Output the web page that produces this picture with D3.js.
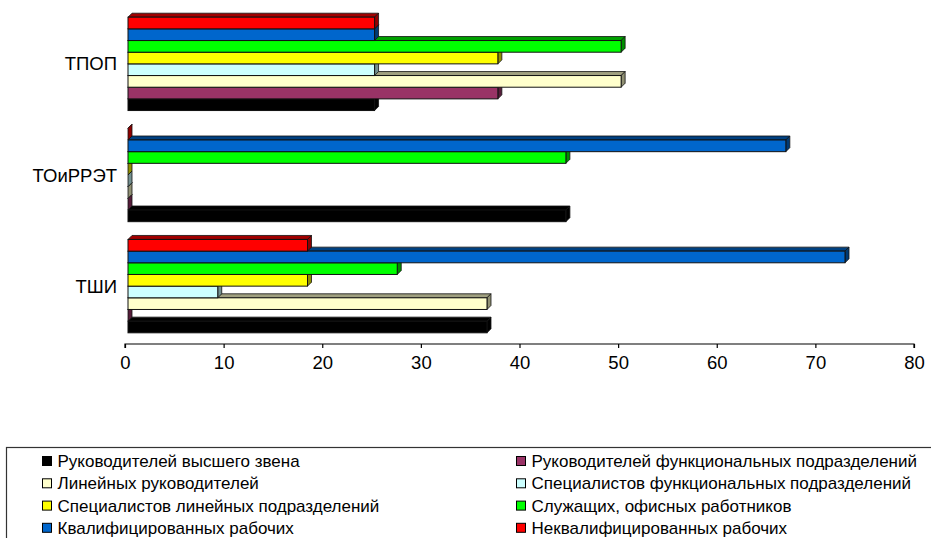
<!DOCTYPE html>
<html>
<head>
<meta charset="utf-8">
<script src="https://cdn.jsdelivr.net/npm/d3@7"></script>
<style>
  html, body { margin: 0; padding: 0; background: #fff; }
  svg { display: block; font-family: "Liberation Sans", Arial, sans-serif; }
</style>
</head>
<body>
<svg id="chart" width="931" height="538"></svg>
<script>
// ---- data ----
const categories = ["ТПОП", "ТОиРРЭТ", "ТШИ"];
const seriesNames = [
  "Руководителей высшего звена",
  "Руководителей функциональных подразделений",
  "Линейных руководителей",
  "Специалистов функциональных подразделений",
  "Специалистов линейных подразделений",
  "Служащих, офисных работников",
  "Квалифицированных рабочих",
  "Неквалифицированных рабочих"
];
const seriesColors = ["#000000", "#993366", "#FFFFCC", "#CCFFFF", "#FFFF00", "#00FF00", "#0066CC", "#FF0000"];
// values per series, in category order [ТПОП, ТОиРРЭТ, ТШИ]
const rukVysshego      = [25,   44.4, 36.4];
const rukFunkc         = [37.5, 0,    0];
const lineinyhRuk      = [50,   0,    36.4];
const specFunkc        = [25,   0,    9.1];
const specLinein       = [37.5, 0,    18.2];
const sluzhashchih     = [50,   44.4, 27.3];
const kvalRabochih     = [25,   66.7, 72.7];
const nekvalRabochih   = [25,   0,    18.2];
const seriesValues = [rukVysshego, rukFunkc, lineinyhRuk, specFunkc, specLinein, sluzhashchih, kvalRabochih, nekvalRabochih];
const xTicks = [0, 10, 20, 30, 40, 50, 60, 70, 80];

// ---- layout ----
const svg = d3.select("#chart");
const axisY = 344;
const x = d3.scaleLinear().domain([0, 80]).range([125, 914]);
const y = d3.scaleBand().domain(categories).range([8.3, 341.7]).paddingInner(0.16).paddingOuter(0.08);
const sIdx = d3.range(seriesNames.length);
const yInner = d3.scaleBand().domain(sIdx.slice().reverse()).range([0, y.bandwidth()]);
const frontDx = 3;      // front face offset of the 3D bars
const depthX = 4, depthY = 4;

// ---- bars ----
const barsG = svg.append("g");
categories.forEach((cat, ci) => {
  const g = barsG.append("g");
  sIdx.forEach(si => {
    const v = seriesValues[si][ci];
    const col = d3.color(seriesColors[si]);
    const x0 = x(0) + frontDx, x1 = x(v) + frontDx;
    const y0 = y(cat) + yInner(si), y1 = y0 + yInner.bandwidth();
    const topCol = si === 0 ? "#000" : col.darker(1.3).formatHex();
    const sideCol = si === 0 ? "#000" : col.darker(1.6).formatHex();
    // top face
    g.append("path")
      .attr("d", `M${x0},${y0}L${x0 + depthX},${y0 - depthY}L${x1 + depthX},${y0 - depthY}L${x1},${y0}Z`)
      .attr("fill", topCol).attr("stroke", "#111").attr("stroke-width", 0.8).attr("stroke-linejoin", "round");
    // right face
    g.append("path")
      .attr("d", `M${x1},${y0}L${x1 + depthX},${y0 - depthY}L${x1 + depthX},${y1 - depthY}L${x1},${y1}Z`)
      .attr("fill", sideCol).attr("stroke", "#111").attr("stroke-width", 0.8).attr("stroke-linejoin", "round");
    // front face
    g.append("rect")
      .attr("x", x0).attr("y", y0)
      .attr("width", Math.max(0, x1 - x0)).attr("height", yInner.bandwidth())
      .attr("fill", col.formatHex()).attr("stroke", "#111").attr("stroke-width", 1);
  });
});

// ---- category labels ----
svg.append("g").selectAll("text").data(categories).join("text")
  .attr("x", 117).attr("y", d => y(d) + y.bandwidth() / 2 + 6.5)
  .attr("text-anchor", "end").attr("font-size", 18.5).attr("fill", "#000")
  .text(d => d);

// ---- x axis ----
const axis = d3.axisBottom(x).tickValues(xTicks).tickSize(4).tickPadding(8).tickFormat(d3.format("d"));
const axG = svg.append("g").attr("transform", `translate(0,${axisY})`).call(axis);
axG.select(".domain").attr("stroke", "#000").attr("stroke-width", 1.2).attr("d", `M${x(0)},4V0H${x(80)}V4`);
axG.selectAll(".tick line").attr("stroke", "#000").attr("stroke-width", 1.2);
axG.selectAll(".tick text").attr("font-size", 18.5).attr("font-family", "Liberation Sans, Arial, sans-serif").attr("fill", "#000");

// ---- legend ----
const leg = svg.append("g");
leg.append("rect").attr("x", 6.5).attr("y", 447.5).attr("width", 1000).attr("height", 200)
  .attr("fill", "none").attr("stroke", "#333").attr("stroke-width", 1.2);
const colX = [42, 516];
const rowY = [461, 483.3, 505.6, 527.8];
sIdx.forEach(si => {
  const cx = colX[si % 2], cy = rowY[Math.floor(si / 2)];
  leg.append("rect").attr("x", cx + 0.5).attr("y", cy - 4.5).attr("width", 9).attr("height", 9)
    .attr("fill", seriesColors[si]).attr("stroke", "#000").attr("stroke-width", 1);
  leg.append("text").attr("x", cx + 15.5).attr("y", cy + 6)
    .attr("font-size", 17).attr("fill", "#000").text(seriesNames[si]);
});
</script>
</body>
</html>
